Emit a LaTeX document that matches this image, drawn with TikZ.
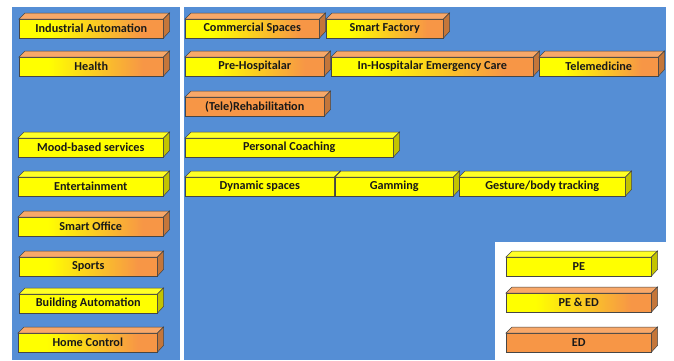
\documentclass[tikz,border=0pt]{standalone}
\usepackage{fontspec}
\setmainfont{Carlito}
\usepackage{xcolor}
\usepackage{tikz}
\usetikzlibrary{positioning}

\definecolor{panelblue}{RGB}{85,142,213}
\definecolor{peyellow}{RGB}{255,255,0}
\definecolor{peside}{RGB}{195,195,0}
\definecolor{edorange}{RGB}{247,150,70}
\definecolor{edtop}{RGB}{248,168,105}
\definecolor{edside}{RGB}{196,118,58}
\definecolor{edgegray}{RGB}{70,70,70}

\pgfdeclarehorizontalshading{yelloworange}{100bp}{color(0bp)=(peyellow); color(25bp)=(peyellow);
  color(35bp)=(peyellow); color(68bp)=(edorange); color(100bp)=(edorange)}

\tikzset{
  face/.style={draw=edgegray, line width=0.5pt},
  pe front/.style={face, fill=peyellow},
  pe top/.style={face, fill=peyellow!85!white},
  pe side/.style={face, fill=peside},
  peed front/.style={face, shading=yelloworange},
  peed top/.style={face, fill=edtop},
  peed side/.style={face, fill=edside},
  ed front/.style={face, fill=edorange},
  ed top/.style={face, fill=edtop},
  ed side/.style={face, fill=edside},
}

% #1 name, #2 x, #3 y, #4 width, #5 kind, #6 label
\newcommand{\barbox}[6]{%
  \node[#5 front, anchor=north west, minimum width=#4pt, minimum height=18.5pt,
        inner sep=0pt, text=black!90, font=\bfseries\fontsize{12.2}{14}\selectfont] (#1) at (#2,#3) {#6};
  \draw[#5 top] (#1.north west) -- ++(6,-6) -- ([shift={(6,-6)}]#1.north east)
        -- (#1.north east) -- cycle;
  \draw[#5 side] (#1.north east) -- ++(6,-6) -- ++(0,18.5) -- (#1.south east) -- cycle;
}

\begin{document}
\begin{tikzpicture}[x=1pt, y=-1pt]
        \useasboundingbox (0,0) rectangle (674,360);
        \fill[white] (0,0) rectangle (674,360);
        % panels
        \fill[panelblue] (12,7) rectangle (180,360);
        \fill[panelblue] (184,7) rectangle (666,360);
        \fill[white] (495,242) rectangle (674,360);
        % left column
        \barbox{ia}{19}{19}{144}{peed}{Industrial Automation}
        \barbox{he}{19}{57}{144}{peed}{Health}
        \barbox{mb}{18}{138}{145}{pe}{Mood-based services}
        \barbox{en}{18}{177}{145}{pe}{Entertainment}
        \barbox{so}{18}{217}{145}{peed}{Smart Office}
        \barbox{sp}{19}{257}{138}{peed}{Sports}
        \barbox{ba}{19}{294}{138}{pe}{Building Automation}
        \barbox{hc}{18}{333}{139}{peed}{Home Control}
        % right column
        \barbox{cs}{185}{19}{134}{peed}{Commercial Spaces}
        \barbox{sf}{326}{19}{117}{peed}{Smart Factory}
        \barbox{ph}{185}{57}{139}{peed}{Pre-Hospitalar}
        \barbox{ih}{331}{57}{202}{peed}{In-Hospitalar Emergency Care}
        \barbox{tm}{539}{57}{119}{peed}{Telemedicine}
        \barbox{tr}{185}{97}{139}{ed}{(Tele)Rehabilitation}
        \barbox{pc}{185}{138}{208}{pe}{Personal Coaching}
        \barbox{ds}{185}{177}{149}{pe}{Dynamic spaces}
        \barbox{ga}{335}{177}{118}{pe}{Gamming}
        \barbox{gb}{459}{177}{166}{pe}{Gesture/body tracking}
        % legend
        \barbox{lpe}{506}{257}{145}{pe}{PE}
        \barbox{lped}{506}{293}{145}{peed}{PE \& ED}
        \barbox{led}{506}{333}{145}{ed}{ED}
\end{tikzpicture}
\end{document}
